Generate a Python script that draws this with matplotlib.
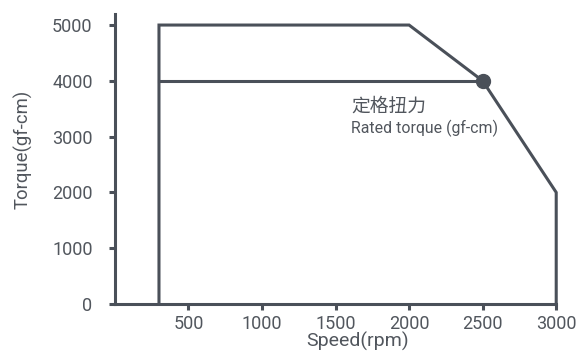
import matplotlib
matplotlib.use("Agg")
import matplotlib.pyplot as plt

# torque-speed envelope (rpm, gf-cm)
speed = [300, 300, 2000, 2500, 3000, 3000]
torque = [0, 5000, 5000, 4000, 2000, 0]
rated_speed = [300, 2500]
rated_torque = [4000, 4000]
x_ticks = [500, 1000, 1500, 2000, 2500, 3000]
y_ticks = [0, 1000, 2000, 3000, 4000, 5000]

line_color = "#4a5059"
text_color = "#51565d"

plt.rcParams['font.family'] = ['Roboto', 'Noto Sans CJK SC', 'DejaVu Sans']

fig = plt.figure(figsize=(5.8, 3.56), dpi=100)
ax = fig.add_axes([0.198, 0.146, 0.761, 0.815])

ax.plot(speed, torque, color=line_color, linewidth=2.2, solid_joinstyle='miter', clip_on=False)
ax.plot(rated_speed, rated_torque, color=line_color, linewidth=2.2, clip_on=False)
ax.plot([rated_speed[-1]], [rated_torque[-1]], 'o', color=line_color, markersize=10, clip_on=False)

ax.text(1605, 3550, "定格扭力", fontsize=13.5, color=text_color,
        family=['Noto Sans CJK SC'], fontweight='medium', va='center', ha='left')
ax.text(1605, 3150, "Rated torque (gf-cm)", fontsize=11.4, color=text_color,
        va='center', ha='left')

ax.set_xlim(0, 3000)
ax.set_ylim(0, 5200)
ax.set_xticks(x_ticks)
ax.set_yticks(y_ticks)

for side in ['top', 'right']:
    ax.spines[side].set_visible(False)
for side in ['left', 'bottom']:
    ax.spines[side].set_color(line_color)
    ax.spines[side].set_linewidth(2.2)

ax.tick_params(axis='both', colors=line_color, labelcolor=text_color, width=2.2,
               length=4, labelsize=13)
ax.tick_params(axis='y', pad=12)
ax.tick_params(axis='x', pad=4)

ax.set_xlabel("Speed(rpm)", fontsize=14, color=text_color)
ax.xaxis.set_label_coords(0.549, -0.097)
ax.set_ylabel("Torque(gf-cm)", fontsize=13.3, color=text_color)
ax.yaxis.set_label_coords(-0.209, 0.534)
ax.yaxis.label.set_va('center')

fig.savefig("out.png", dpi=100)
